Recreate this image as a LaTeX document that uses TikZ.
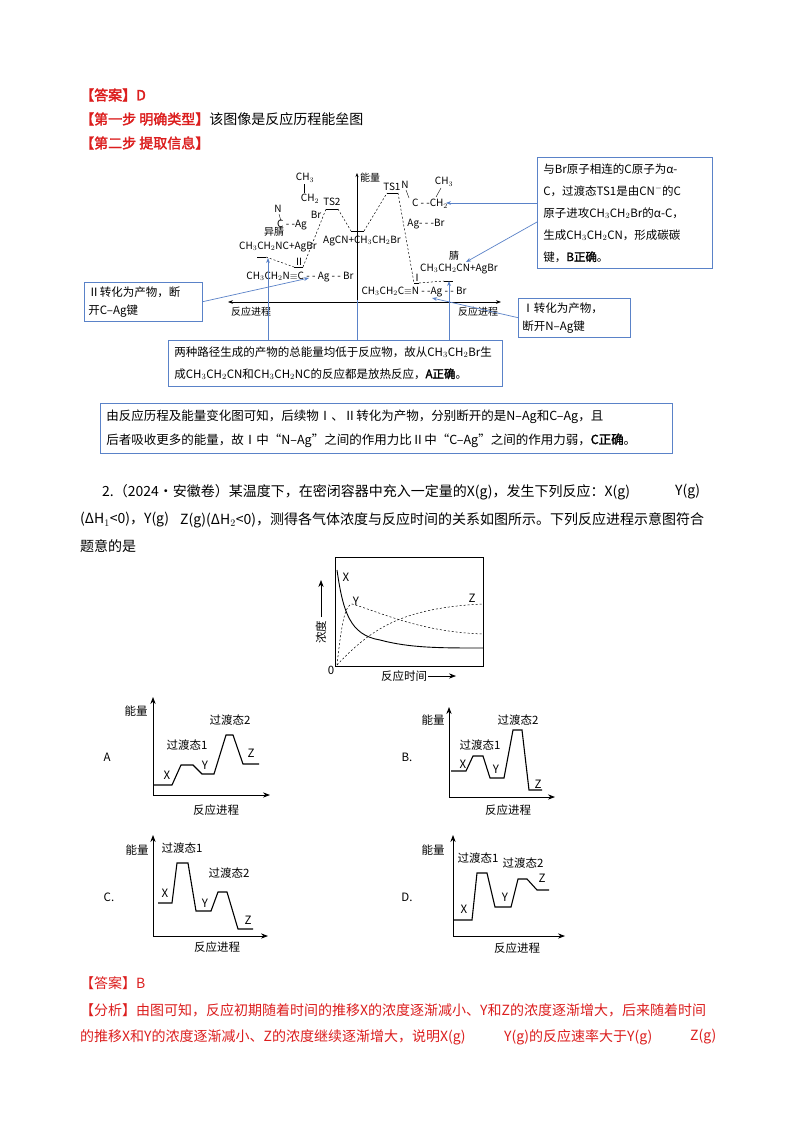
\documentclass[tikz,border=0pt]{standalone}
\usepackage{fontspec}
\setmainfont{Noto Sans CJK SC}[AutoFakeBold=2]
\usetikzlibrary{arrows.meta}
\definecolor{ansred}{RGB}{220,30,30}
\definecolor{boxblue}{RGB}{90,130,200}
\tikzset{
 txt/.style={anchor=west,inner sep=0pt,font=\fontsize{14}{16}\selectfont},
 stxt/.style={inner sep=0pt,font=\fontsize{10}{12}\selectfont},
 ctxt/.style={inner sep=0pt,font=\fontsize{11.5}{13}\selectfont},
 bbox/.style={draw=boxblue,line width=0.8pt},
 btxt/.style={anchor=north west,inner sep=0pt,font=\fontsize{11.5}{22}\selectfont,align=left},
 barr/.style={draw=boxblue,line width=0.7pt,-{Stealth[length=5pt]}},
 ecurve/.style={line width=0.5pt,dash pattern=on 2pt off 2pt},
 lvl/.style={line width=0.8pt},
 ax/.style={line width=0.8pt,-{Stealth[length=7pt]}},
 epath/.style={line width=1.1pt},
}
\begin{document}
\begin{tikzpicture}[x=1pt,y=-1pt]
\useasboundingbox[fill=white] (0,0) rectangle (800,1132);
% headers
\node[txt,text=ansred] (h1) at (80,95) {\textbf{【答案】D}};
\node[txt] (h2) at (80,119) {\textcolor{ansred}{\textbf{【第一步\ 明确类型】}}该图像是反应历程能垒图};
\node[txt,text=ansred] (h3) at (80,143) {\textbf{【第二步\ 提取信息】}};
% axes of top diagram
\draw[line width=0.8pt,{Stealth[length=5pt]}-{Stealth[length=5pt]}] (228,302) -- (501,302);
\draw[line width=0.8pt,-{Stealth[length=4pt]}] (357,302) -- (357,173);
\node[stxt,anchor=west] (nl) at (360,178) {能量};
% levels
\draw[lvl] (257,257) -- (266,257);
\draw[lvl] (294,267) -- (303,267);
\draw[lvl] (326,209) -- (338,209);
\draw[lvl] (351,231) -- (364,231);
\draw[lvl] (387,193) -- (398,193);
\draw[lvl] (414,283) -- (419,283);
\draw[lvl] (444,281) -- (453,281);
\draw[ecurve] (266,257) -- (294,267);
\draw[ecurve] (303,267) -- (326,209);
\draw[ecurve] (338,209) -- (351,231);
\draw[ecurve] (364,231) -- (387,193);
\draw[ecurve] (398,193) -- (414,283);
\draw[ecurve] (419,283) -- (444,281);
% chem labels
\node[stxt] at (305,178) {CH$_3$};
\draw[line width=0.4pt] (304,184) -- (304,193);
\node[stxt] at (310,199) {CH$_2$};
\node[stxt] at (278,209) {N};
\draw[line width=0.4pt] (279,214) -- (281,221);
\node[stxt] at (292,225) {C - -Ag};
\node[stxt] at (316,215) {Br};
\node[stxt] at (274,232) {异腈};
\node[stxt] at (278,247) {CH$_3$CH$_2$NC+AgBr};
\node[stxt] at (332,202) {TS2};
\node[stxt] at (362,241) {AgCN+CH$_3$CH$_2$Br};
\node[stxt] at (392,187) {TS1};
\node[stxt] at (405,185) {N};
\draw[line width=0.4pt] (406,190) -- (409,198);
\node[stxt] at (430,204) {C - -CH$_2$};
\node[stxt] at (444,182) {CH$_3$};
\draw[line width=0.4pt] (436,197) -- (441,188);
\node[stxt] at (426,224) {Ag- - -Br};
\node[stxt] at (454,256) {腈};
\node[stxt] at (459,269) {CH$_3$CH$_2$CN+AgBr};
\node[stxt] at (299,262) {Ⅱ};
\node[stxt] at (300,277) {CH$_3$CH$_2$N$\equiv$C - - Ag - - Br};
\node[stxt] at (417,278) {Ⅰ};
\node[stxt] at (414,292) {CH$_3$CH$_2$C$\equiv$N - -Ag - - Br};
\node[stxt] at (251,312) {反应进程};
\node[stxt] at (478,312) {反应进程};
% right box
\node[bbox,btxt,text width=163pt,inner sep=6pt] (rb) at (537,157) {与Br原子相连的C原子为\textit{α}-\\C，过渡态TS1是由CN$^-$的C\\原子进攻CH$_3$CH$_2$Br的\textit{α}-C，\\生成CH$_3$CH$_2$CN，形成碳碳\\键，\textbf{B正确}。};
\coordinate (t1) at (446,203);
\coordinate (t2) at (466,262);
\draw[barr] (rb.west |- t1) -- (t1);
\draw[barr] (537,222) -- (t2);
% left box
\node[bbox,btxt,text width=110pt,inner sep=4pt,font=\fontsize{11.5}{18}\selectfont] (lb) at (84,282) {Ⅱ转化为产物，断\\开C--Ag键};
\coordinate (t3) at (309,278);
\draw[barr] (lb.east) -- (t3);
% lower right box
\node[bbox,btxt,text width=104pt,inner sep=4pt,font=\fontsize{11.5}{18}\selectfont] (lrb) at (518,298) {Ⅰ转化为产物，\\断开N--Ag键};
\coordinate (t4) at (432,298);
\draw[barr] (lrb.west) -- (t4);
% middle box
\node[bbox,btxt,text width=322pt,inner sep=6pt] (mb) at (168,340) {两种路径生成的产物的总能量均低于反应物，故从CH$_3$CH$_2$Br生\\成CH$_3$CH$_2$CN和CH$_3$CH$_2$NC的反应都是放热反应，\textbf{A正确}。};
\coordinate (t5) at (268,258);
\coordinate (t6) at (357,300);
\coordinate (t7) at (449,281);
\draw[barr] (t5 |- mb.north) -- (t5);
\draw[draw=boxblue,line width=0.7pt] (t6 |- mb.north) -- (t6);
\draw[barr] (t7 |- mb.north) -- (t7);
% bottom box
\node[bbox,btxt,text width=560pt,inner sep=6pt,font=\fontsize{12.5}{24}\selectfont] (bb) at (100,403) {由反应历程及能量变化图可知，后续物Ⅰ、Ⅱ转化为产物，分别断开的是N--Ag和C--Ag，且\\后者吸收更多的能量，故Ⅰ中“N--Ag”之间的作用力比Ⅱ中“C--Ag”之间的作用力弱，\textbf{C正确}。};
% question text
\node[txt] (q1) at (102,492) {2.（2024·安徽卷）某温度下，在密闭容器中充入一定量的X(g)，发生下列反应：X(g)};
\node[txt] (q1b) at (675,492) {Y(g)};
\node[txt] (q2) at (80,520) {(ΔH$_1$<0)，Y(g)};
\node[txt] (q2b) at (180,520) {Z(g)(ΔH$_2$<0)，测得各气体浓度与反应时间的关系如图所示。下列反应进程示意图符合};
\node[txt] (q3) at (80,546) {题意的是};
% concentration chart
\draw[line width=0.8pt] (335,557) rectangle (483,666);
\draw[line width=0.9pt] (337,570) .. controls (343,612) and (350,635) .. (380,640) .. controls (410,648) and (440,648) .. (483,648);
\draw[ecurve] (337,665) .. controls (342,620) and (345,606) .. (352,604) .. controls (380,612) and (420,632) .. (483,634);
\draw[ecurve] (337,665) .. controls (370,630) and (400,608) .. (483,604);
\node[ctxt] at (346,577) {X};
\node[ctxt] at (356,601) {Y};
\node[ctxt] at (472,598) {Z};
\node[ctxt,rotate=90] at (321,632) {浓度};
\draw[ax,line width=0.7pt] (321,617) -- (321,580);
\node[ctxt] at (331,670) {0};
\node[ctxt] at (404,676) {反应时间};
\draw[ax,line width=0.7pt] (428,676) -- (456,676);
% energy charts
\begin{scope}[shift={(153,795)},y=1pt,x=1pt]
 \draw[ax] (0,0) -- (0,98); \draw[ax] (0,0) -- (117,0);
 \draw[epath] (0,10) -- (19,10) -- (28,30) -- (40,30) -- (49,21) -- (61,21) -- (73,60) -- (80,60) -- (90,31) -- (106,31);
 \node[ctxt] at (-17,84) {能量}; \node[ctxt] at (77,75) {过渡态2}; \node[ctxt] at (34,50) {过渡态1};
 \node[ctxt] at (14,20) {X}; \node[ctxt] at (52,30) {Y}; \node[ctxt] at (98,42) {Z};
 \node[ctxt] at (63,-15) {反应进程}; \node[ctxt] at (-46,38) {A};
\end{scope}
\begin{scope}[shift={(449,797)},y=1pt,x=1pt]
 \draw[ax] (0,0) -- (0,90); \draw[ax] (0,0) -- (106,0);
 \draw[epath] (2,26) -- (17,26) -- (24,41) -- (34,41) -- (41,19) -- (55,19) -- (64,67) -- (73,67) -- (80,7) -- (93,7);
 \node[ctxt] at (-16,77) {能量}; \node[ctxt] at (69,77) {过渡态2}; \node[ctxt] at (31,52) {过渡态1};
 \node[ctxt] at (14,33) {X}; \node[ctxt] at (47,28) {Y}; \node[ctxt] at (89,13) {Z};
 \node[ctxt] at (59,-13) {反应进程}; \node[ctxt] at (-42,40) {B.};
\end{scope}
\begin{scope}[shift={(153,936)},y=1pt,x=1pt]
 \draw[ax] (0,0) -- (0,101); \draw[ax] (0,0) -- (115,0);
 \draw[epath] (5,33) -- (19,33) -- (24,73) -- (35,73) -- (43,25) -- (58,25) -- (65,44) -- (74,44) -- (85,7) -- (100,7);
 \node[ctxt] at (-16,86) {能量}; \node[ctxt] at (29,88) {过渡态1}; \node[ctxt] at (76,63) {过渡态2};
 \node[ctxt] at (12,43) {X}; \node[ctxt] at (52,33) {Y}; \node[ctxt] at (95,16) {Z};
 \node[ctxt] at (64,-11) {反应进程}; \node[ctxt] at (-44,39) {C.};
\end{scope}
\begin{scope}[shift={(453,936)},y=1pt,x=1pt]
 \draw[ax] (0,0) -- (0,101); \draw[ax] (0,0) -- (112,0);
 \draw[epath] (1,16) -- (19,16) -- (24,63) -- (34,63) -- (42,29) -- (58,29) -- (65,57) -- (74,57) -- (84,46) -- (96,46);
 \node[ctxt] at (-20,86) {能量}; \node[ctxt] at (25,78) {过渡态1}; \node[ctxt] at (70,73) {过渡态2};
 \node[ctxt] at (11,27) {X}; \node[ctxt] at (52,39) {Y}; \node[ctxt] at (89,58) {Z};
 \node[ctxt] at (64,-12) {反应进程}; \node[ctxt] at (-46,39) {D.};
\end{scope}
% answer
\node[txt,text=ansred] (a1) at (80,983) {【答案】B};
\node[txt,text=ansred] (a2) at (80,1010) {【分析】由图可知，反应初期随着时间的推移X的浓度逐渐减小、Y和Z的浓度逐渐增大，后来随着时间};
\node[txt,text=ansred] (a3) at (80,1037) {的推移X和Y的浓度逐渐减小、Z的浓度继续逐渐增大，说明X(g)};
\node[txt,text=ansred] (a4) at (504,1037) {Y(g)的反应速率大于Y(g)};
\node[txt,text=ansred] (a5) at (690,1037) {Z(g)};
\end{tikzpicture}
\end{document}
